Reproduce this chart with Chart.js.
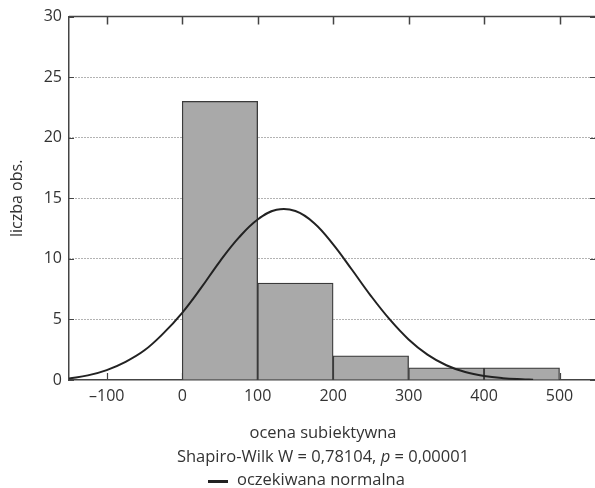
<!DOCTYPE html>
<html>
<head>
<meta charset="utf-8">
<script src="https://cdn.jsdelivr.net/npm/chart.js@4/dist/chart.umd.min.js"></script>
<style>
  html, body { margin: 0; padding: 0; background: #fff; }
  #wrap { width: 595px; height: 488px; }
</style>
</head>
<body>
<div id="wrap"><canvas id="myChart" width="595" height="488"></canvas></div>
<script>
// dane histogramu (środki przedziałów i liczebności)
const binCenters = [50, 150, 250, 350, 450];
const binCounts = [23, 8, 2, 1, 1];

// krzywa oczekiwanej normalnej
const curveX = [-150, -125, -100, -75, -50, -25, 0, 25, 50, 75, 100, 125, 150, 175, 200, 225, 250, 275, 300, 325, 350, 375, 400, 425, 450, 465];
const curveY = [0.12, 0.38, 0.82, 1.5, 2.45, 3.85, 5.55, 7.6, 9.8, 11.75, 13.25, 14.05, 13.95, 12.95, 11.2, 9.1, 6.95, 5.0, 3.35, 2.1, 1.22, 0.66, 0.33, 0.15, 0.06, 0.03];

// etykiety osi
const xTicks = [-100, 0, 100, 200, 300, 400, 500];
const yTicks = [0, 5, 10, 15, 20, 25, 30];

const FONT = '"Open Sans", sans-serif';
const TXT = '#333';
const AXIS = '#444';

// ramka: górna krawędź + ząbki skierowane do środka
const framePlugin = {
    id: 'frame',
    beforeDatasetsDraw(chart) {
        const { ctx, chartArea: a, scales: { x, y } } = chart;
        ctx.save();
        ctx.strokeStyle = AXIS;
        ctx.lineWidth = 1.2;
        ctx.beginPath();
        xTicks.forEach(v => {
            const px = Math.round(x.getPixelForValue(v)) + 0.5;
            ctx.moveTo(px, a.bottom);
            ctx.lineTo(px, a.bottom - 7);
        });
        yTicks.forEach(v => {
            const py = Math.round(y.getPixelForValue(v)) + 0.5;
            ctx.moveTo(a.left, py);
            ctx.lineTo(a.left + 5, py);
            ctx.moveTo(a.right, py);
            ctx.lineTo(a.right - 5, py);
        });
        ctx.stroke();
        ctx.restore();
    },
    afterDraw(chart) {
        const { ctx, chartArea: a, scales: { x } } = chart;
        ctx.save();
        ctx.strokeStyle = AXIS;
        ctx.lineWidth = 1.5;
        ctx.beginPath();
        ctx.moveTo(a.left, a.top);
        ctx.lineTo(a.right, a.top);
        xTicks.forEach(v => {
            const px = Math.round(x.getPixelForValue(v)) + 0.5;
            ctx.moveTo(px, a.top);
            ctx.lineTo(px, a.top + 8);
        });
        ctx.stroke();

        // opisy pod osią X
        const cx = 323;
        ctx.fillStyle = TXT;
        ctx.textBaseline = 'middle';
        ctx.textAlign = 'center';
        ctx.font = '16.5px ' + FONT;
        ctx.fillText('ocena subiektywna', cx, 433);

        const parts = [
            { t: 'Shapiro-Wilk W = 0,78104, ', f: '16.5px ' + FONT },
            { t: 'p', f: 'italic 16.5px ' + FONT },
            { t: ' = 0,00001', f: '16.5px ' + FONT }
        ];
        let total = 0;
        parts.forEach(p => { ctx.font = p.f; p.w = ctx.measureText(p.t).width; total += p.w; });
        let sx = cx - total / 2;
        ctx.textAlign = 'left';
        parts.forEach(p => { ctx.font = p.f; ctx.fillText(p.t, sx, 457); sx += p.w; });

        // legenda
        ctx.strokeStyle = '#222';
        ctx.lineWidth = 3;
        ctx.beginPath();
        ctx.moveTo(208, 481.5);
        ctx.lineTo(228, 481.5);
        ctx.stroke();
        ctx.font = '16.5px ' + FONT;
        ctx.fillText('oczekiwana normalna', 237, 480);
        ctx.restore();
    }
};

const ctx = document.getElementById('myChart').getContext('2d');
const myChart = new Chart(ctx, {
    type: 'bar',
    data: {
        datasets: [
            {
                type: 'line',
                label: 'oczekiwana normalna',
                data: curveX.map((v, i) => ({ x: v, y: curveY[i] })),
                borderColor: '#222',
                borderWidth: 2,
                pointRadius: 0,
                tension: 0.4,
                order: 0
            },
            {
                label: 'liczba obs.',
                data: binCenters.map((v, i) => ({ x: v, y: binCounts[i] })),
                backgroundColor: '#a9a9a9',
                borderColor: '#3a3a3a',
                borderWidth: 1.3,
                barPercentage: 1,
                categoryPercentage: 1,
                order: 1
            }
        ]
    },
    options: {
        responsive: false,
        animation: false,
        layout: { padding: { top: 16, right: 0, left: 0, bottom: 0 } },
        plugins: {
            legend: { display: false },
            tooltip: { enabled: false }
        },
        scales: {
            x: {
                type: 'linear',
                min: -150,
                max: 547,
                offset: false,
                afterFit: s => { s.height = 108; },
                grid: { display: false, drawTicks: false },
                border: { display: true, color: AXIS, width: 1.5 },
                afterBuildTicks: s => { s.ticks = xTicks.map(v => ({ value: v })); },
                ticks: {
                    padding: 7,
                    color: TXT,
                    font: { family: FONT, size: 16 },
                    callback: v => v < 0 ? '\u2013' + Math.abs(v) : v
                }
            },
            y: {
                min: 0,
                max: 30,
                afterFit: s => { s.width = 69; },
                afterBuildTicks: s => { s.ticks = yTicks.map(v => ({ value: v })); },
                grid: {
                    drawTicks: false,
                    color: c => (c.tick.value === 0 || c.tick.value === 30) ? 'rgba(0,0,0,0)' : '#666',
                    lineWidth: 1
                },
                border: { display: true, color: AXIS, width: 1.5, dash: [1, 2] },
                ticks: {
                    padding: 7,
                    color: TXT,
                    font: { family: FONT, size: 16 }
                },
                title: {
                    display: true,
                    text: 'liczba obs.',
                    color: TXT,
                    font: { family: FONT, size: 16 },
                    padding: { top: 8, bottom: 0 }
                }
            }
        }
    },
    plugins: [framePlugin]
});
</script>
</body>
</html>
